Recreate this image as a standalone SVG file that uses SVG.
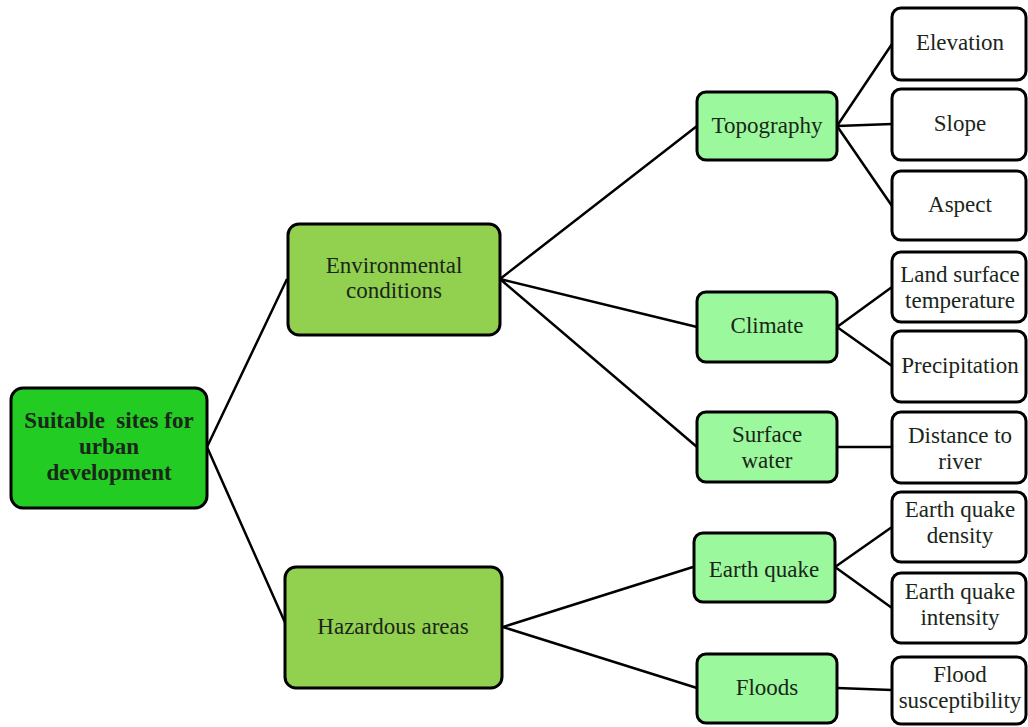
<svg xmlns="http://www.w3.org/2000/svg" width="1028" height="727" viewBox="0 0 1028 727">
<style>
.b{stroke:#000;stroke-width:3}
.r{fill:#22cc22}
.l1{fill:#92d050}
.l2{fill:#9cf89c}
.l3{fill:#fff}
.t text{text-anchor:middle;fill:#1a261a}
.rt{font-weight:bold;fill:#0c4a0c}
.c path{stroke:#000;stroke-width:2.5;fill:none}
</style>
<rect width="1028" height="727" fill="#fff"/>
<g class="c">
<path d="M207 447L287 279M207 447L287 627"/>
<path d="M500 279L697 126M500 279L697 327M500 279L697 447"/>
<path d="M503 627L693 567M503 627L697 688"/>
<path d="M837 126L892 44M837 126L892 124M837 126L892 206"/>
<path d="M837 327L892 287M837 327L892 366"/>
<path d="M837 447L892 447"/>
<path d="M835 567L892 527M835 567L892 608"/>
<path d="M837 688L892 690"/>
</g>
<g class="t" font-family="'Liberation Serif', 'Times New Roman', 'DejaVu Serif', serif" font-size="23">
<g id="root"><rect class="b r" x="11" y="388" width="196" height="120" rx="12"/><text class="rt" x="109" y="428">Suitable&#160; sites for</text><text class="rt" x="109" y="454">urban</text><text class="rt" x="109" y="480">development</text></g>
<g id="env"><rect class="b l1" x="288" y="224" width="212" height="111" rx="11"/><text x="394" y="273">Environmental</text><text x="394" y="298">conditions</text></g>
<g id="haz"><rect class="b l1" x="285" y="567" width="217" height="121" rx="11"/><text x="393" y="634">Hazardous areas</text></g>
<g id="topo"><rect class="b l2" x="697" y="92" width="140" height="68" rx="9"/><text x="767" y="133">Topography</text></g>
<g id="climate"><rect class="b l2" x="697" y="292" width="140" height="70" rx="9"/><text x="767" y="333">Climate</text></g>
<g id="water"><rect class="b l2" x="697" y="412" width="140" height="70" rx="9"/><text x="767" y="442">Surface</text><text x="767" y="468">water</text></g>
<g id="quake"><rect class="b l2" x="694" y="533" width="141" height="69" rx="9"/><text x="764" y="577">Earth quake</text></g>
<g id="floods"><rect class="b l2" x="697" y="654" width="140" height="69" rx="9"/><text x="767" y="695">Floods</text></g>
<g id="elev"><rect class="b l3" x="892" y="8" width="134" height="72" rx="9"/><text x="960" y="50">Elevation</text></g>
<g id="slope"><rect class="b l3" x="892" y="89" width="134" height="71" rx="9"/><text x="960" y="131">Slope</text></g>
<g id="aspect"><rect class="b l3" x="892" y="171" width="134" height="69" rx="9"/><text x="960" y="212">Aspect</text></g>
<g id="lst"><rect class="b l3" x="892" y="252" width="134" height="70" rx="9"/><text x="960" y="282">Land surface</text><text x="960" y="308">temperature</text></g>
<g id="precip"><rect class="b l3" x="892" y="331" width="134" height="71" rx="9"/><text x="960" y="373">Precipitation</text></g>
<g id="dist"><rect class="b l3" x="892" y="412" width="134" height="71" rx="9"/><text x="960" y="443">Distance to</text><text x="960" y="469">river</text></g>
<g id="eqd"><rect class="b l3" x="892" y="492" width="134" height="70" rx="9"/><text x="960" y="517">Earth quake</text><text x="960" y="543">density</text></g>
<g id="eqi"><rect class="b l3" x="892" y="573" width="134" height="70" rx="9"/><text x="960" y="599">Earth quake</text><text x="960" y="625">intensity</text></g>
<g id="flood"><rect class="b l3" x="892" y="657" width="134" height="67" rx="9"/><text x="960" y="682">Flood</text><text x="960" y="708">susceptibility</text></g>
</g>
</svg>
